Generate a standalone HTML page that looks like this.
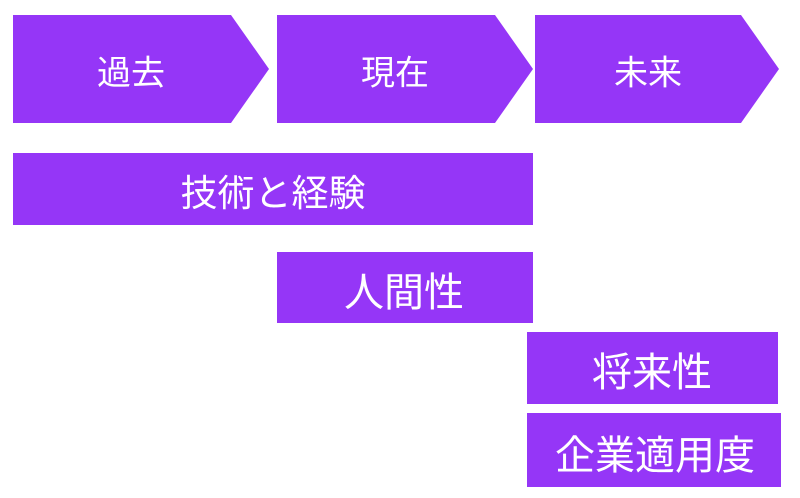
<!DOCTYPE html>
<html><head><meta charset="utf-8"><style>
body{margin:0;width:800px;height:498px;background:#fff;overflow:hidden;position:relative;font-family:"Liberation Sans","Noto Sans CJK JP",sans-serif}
.t{position:absolute;color:#fff;text-align:center;white-space:nowrap;transform:translate(-50%,-50%)}
.b{position:absolute;background:#9536f7}
</style></head><body>
<svg width="800" height="498" style="position:absolute;left:0;top:0">
<polygon points="13,15 231,15 269,69 231,123 13,123" fill="#9536f7"/>
<polygon points="277,15 495,15 533,69 495,123 277,123" fill="#9536f7"/>
<polygon points="535,15 741,15 779,69 741,123 535,123" fill="#9536f7"/>
</svg>
<div class="b" style="left:13px;top:153px;width:520px;height:72px"></div>
<div class="b" style="left:277px;top:252px;width:256px;height:71px"></div>
<div class="b" style="left:527px;top:332px;width:251px;height:72px"></div>
<div class="b" style="left:527px;top:413px;width:254px;height:74px"></div>
<div class="t" style="left:131px;top:70px;font-size:34px">過去</div>
<div class="t" style="left:395px;top:70px;font-size:34px">現在</div>
<div class="t" style="left:648px;top:70px;font-size:34px">未来</div>
<div class="t" style="left:273px;top:190px;font-size:37px">技術と経験</div>
<div class="t" style="left:404px;top:289px;font-size:40px">人間性</div>
<div class="t" style="left:652px;top:369px;font-size:40px">将来性</div>
<div class="t" style="left:655px;top:452px;font-size:40px">企業適用度</div>
</body></html>
